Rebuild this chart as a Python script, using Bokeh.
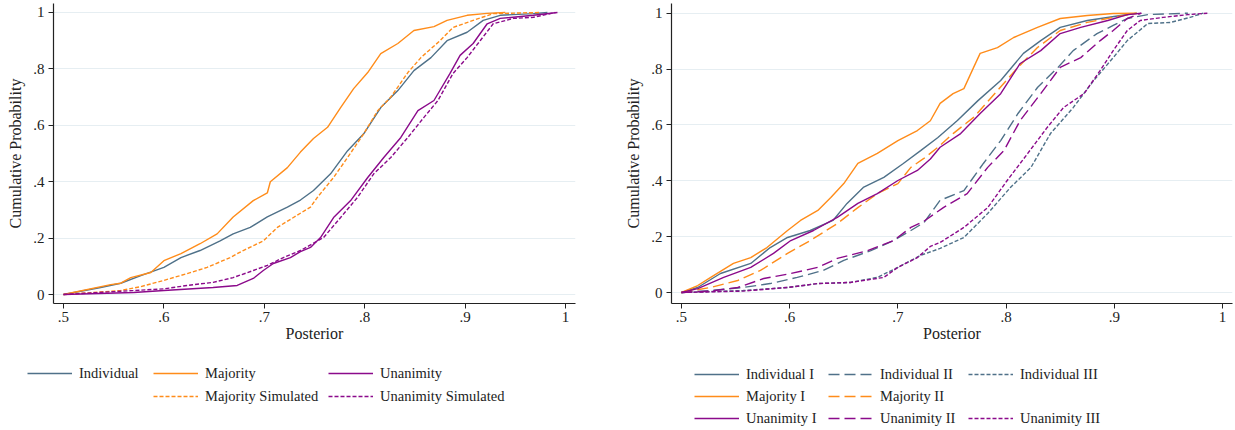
from bokeh.plotting import figure
from bokeh.models import Legend, LegendItem, FixedTicker, Range1d
from bokeh.layouts import row, column
from bokeh.embed import file_html
from bokeh.resources import INLINE

FONT = "Liberation Serif"
C_IND = "#4f7189"
C_MAJ = "#ff8c1a"
C_UNA = "#8b0a8b"

x_ticks = [0.5, 0.6, 0.7, 0.8, 0.9, 1.0]
x_tick_labels = [".5", ".6", ".7", ".8", ".9", "1"]
y_ticks = [0.0, 0.2, 0.4, 0.6, 0.8, 1.0]
y_tick_labels = ["0", ".2", ".4", ".6", ".8", "1"]

# ---------------- Left panel data ----------------
ind_x = [0.5, 0.537, 0.557, 0.577, 0.6, 0.617, 0.636, 0.656, 0.669, 0.686, 0.703, 0.723, 0.736, 0.749, 0.766, 0.783, 0.799, 0.816, 0.833, 0.849, 0.866, 0.882, 0.902, 0.918, 0.935, 0.968, 0.982]
ind_y = [0.0, 0.025, 0.04, 0.067, 0.096, 0.131, 0.156, 0.19, 0.215, 0.238, 0.275, 0.31, 0.335, 0.369, 0.428, 0.51, 0.57, 0.663, 0.723, 0.794, 0.84, 0.9, 0.93, 0.972, 0.99, 0.996, 1.0]

maj_x = [0.5, 0.547, 0.557, 0.567, 0.587, 0.6, 0.617, 0.636, 0.653, 0.669, 0.689, 0.703, 0.706, 0.723, 0.736, 0.749, 0.763, 0.776, 0.789, 0.803, 0.816, 0.833, 0.849, 0.869, 0.882, 0.902, 0.922, 0.94]
maj_y = [0.0, 0.035, 0.04, 0.06, 0.078, 0.12, 0.145, 0.18, 0.215, 0.275, 0.333, 0.36, 0.40, 0.45, 0.505, 0.553, 0.593, 0.663, 0.73, 0.787, 0.854, 0.89, 0.936, 0.95, 0.972, 0.99, 0.997, 1.0]

majsim_x = [0.5, 0.557, 0.577, 0.6, 0.623, 0.643, 0.666, 0.679, 0.699, 0.713, 0.729, 0.746, 0.753, 0.769, 0.783, 0.799, 0.813, 0.826, 0.843, 0.856, 0.875, 0.888, 0.908, 0.928, 0.975]
majsim_y = [0.0, 0.014, 0.028, 0.05, 0.074, 0.096, 0.131, 0.156, 0.19, 0.238, 0.273, 0.31, 0.345, 0.415, 0.486, 0.57, 0.652, 0.70, 0.787, 0.84, 0.90, 0.947, 0.972, 0.996, 1.0]

una_x = [0.5, 0.57, 0.6, 0.649, 0.673, 0.689, 0.699, 0.709, 0.726, 0.736, 0.746, 0.756, 0.769, 0.786, 0.803, 0.819, 0.836, 0.853, 0.869, 0.885, 0.895, 0.908, 0.922, 0.935, 0.968, 0.992]
una_y = [0.0, 0.007, 0.014, 0.025, 0.032, 0.057, 0.085, 0.11, 0.131, 0.152, 0.167, 0.202, 0.273, 0.333, 0.415, 0.486, 0.557, 0.652, 0.688, 0.784, 0.848, 0.89, 0.96, 0.979, 0.99, 1.0]

unasim_x = [0.5, 0.6, 0.623, 0.649, 0.669, 0.689, 0.703, 0.719, 0.736, 0.759, 0.776, 0.793, 0.809, 0.826, 0.843, 0.859, 0.873, 0.888, 0.902, 0.915, 0.928, 0.948, 0.968, 0.99]
unasim_y = [0.0, 0.02, 0.032, 0.043, 0.06, 0.085, 0.103, 0.131, 0.156, 0.202, 0.273, 0.345, 0.428, 0.486, 0.557, 0.628, 0.688, 0.784, 0.84, 0.90, 0.96, 0.979, 0.983, 1.0]

# ---------------- Right panel data ----------------
ind1_x = [0.5, 0.515, 0.536, 0.564, 0.582, 0.598, 0.619, 0.64, 0.653, 0.668, 0.687, 0.705, 0.721, 0.737, 0.755, 0.774, 0.795, 0.816, 0.832, 0.85, 0.875, 0.906, 0.921]
ind1_y = [0.0, 0.018, 0.068, 0.104, 0.161, 0.197, 0.222, 0.258, 0.319, 0.376, 0.412, 0.462, 0.508, 0.555, 0.616, 0.687, 0.759, 0.856, 0.902, 0.949, 0.974, 0.992, 1.0]

maj1_x = [0.5, 0.515, 0.527, 0.548, 0.564, 0.579, 0.598, 0.61, 0.626, 0.638, 0.65, 0.663, 0.681, 0.7, 0.718, 0.73, 0.739, 0.751, 0.761, 0.77, 0.776, 0.792, 0.807, 0.829, 0.85, 0.875, 0.899, 0.92]
maj1_y = [0.0, 0.025, 0.054, 0.104, 0.125, 0.161, 0.222, 0.258, 0.294, 0.34, 0.39, 0.462, 0.498, 0.544, 0.58, 0.615, 0.677, 0.712, 0.73, 0.806, 0.856, 0.877, 0.913, 0.949, 0.981, 0.992, 0.999, 1.0]

una1_x = [0.5, 0.515, 0.539, 0.564, 0.585, 0.601, 0.622, 0.644, 0.663, 0.681, 0.7, 0.718, 0.73, 0.739, 0.758, 0.776, 0.795, 0.813, 0.832, 0.85, 0.869, 0.894, 0.912, 0.925]
una1_y = [0.0, 0.014, 0.054, 0.09, 0.14, 0.186, 0.222, 0.269, 0.319, 0.354, 0.401, 0.437, 0.478, 0.52, 0.569, 0.641, 0.712, 0.82, 0.866, 0.927, 0.949, 0.974, 0.995, 1.0]

ind2_x = [0.5, 0.527, 0.557, 0.582, 0.607, 0.631, 0.65, 0.675, 0.696, 0.712, 0.724, 0.739, 0.761, 0.779, 0.795, 0.811, 0.829, 0.848, 0.862, 0.884, 0.899, 0.912, 0.931, 0.968]
ind2_y = [0.0, 0.007, 0.018, 0.032, 0.054, 0.079, 0.115, 0.15, 0.186, 0.222, 0.25, 0.33, 0.365, 0.462, 0.544, 0.641, 0.734, 0.806, 0.866, 0.927, 0.956, 0.981, 0.995, 1.0]

maj2_x = [0.5, 0.527, 0.552, 0.573, 0.598, 0.619, 0.644, 0.663, 0.681, 0.7, 0.712, 0.724, 0.737, 0.751, 0.77, 0.792, 0.811, 0.829, 0.85, 0.875, 0.899, 0.921]
maj2_y = [0.0, 0.018, 0.043, 0.079, 0.14, 0.186, 0.247, 0.304, 0.354, 0.39, 0.448, 0.48, 0.52, 0.569, 0.627, 0.723, 0.806, 0.877, 0.938, 0.967, 0.985, 1.0]

una2_x = [0.5, 0.527, 0.552, 0.576, 0.601, 0.626, 0.644, 0.672, 0.696, 0.712, 0.724, 0.742, 0.764, 0.783, 0.798, 0.813, 0.832, 0.85, 0.869, 0.887, 0.899, 0.912, 0.925]
una2_y = [0.0, 0.005, 0.018, 0.05, 0.068, 0.09, 0.122, 0.15, 0.186, 0.233, 0.255, 0.304, 0.354, 0.448, 0.508, 0.616, 0.712, 0.806, 0.841, 0.902, 0.938, 0.981, 1.0]

ind3_x = [0.5, 0.557, 0.598, 0.626, 0.656, 0.681, 0.7, 0.721, 0.739, 0.761, 0.783, 0.804, 0.823, 0.841, 0.862, 0.881, 0.899, 0.912, 0.931, 0.952, 0.97, 0.982]
ind3_y = [0.0, 0.007, 0.018, 0.032, 0.036, 0.054, 0.09, 0.133, 0.158, 0.197, 0.283, 0.376, 0.448, 0.569, 0.662, 0.759, 0.841, 0.902, 0.963, 0.967, 0.985, 1.0]

una3_x = [0.5, 0.557, 0.598, 0.626, 0.656, 0.687, 0.7, 0.718, 0.73, 0.739, 0.761, 0.783, 0.801, 0.82, 0.838, 0.853, 0.872, 0.887, 0.899, 0.912, 0.924, 0.945, 0.968, 0.986]
una3_y = [0.0, 0.005, 0.018, 0.032, 0.036, 0.054, 0.09, 0.125, 0.165, 0.179, 0.233, 0.304, 0.401, 0.498, 0.591, 0.662, 0.712, 0.795, 0.866, 0.938, 0.974, 0.985, 0.995, 1.0]

SHORT = "4 2"
LONG = "11 5"
LW = 1.4


def make_fig(width, mb_left, mb_right, xr, yr):
    p = figure(width=width, height=350, x_range=Range1d(*xr), y_range=Range1d(*yr),
               output_backend="svg", toolbar_location=None,
               min_border_left=mb_left, min_border_right=mb_right,
               min_border_top=3, min_border_bottom=47)
    p.outline_line_color = None
    p.xgrid.visible = False
    p.ygrid.ticker = FixedTicker(ticks=y_ticks)
    p.ygrid.grid_line_color = "#e6eef2"
    p.ygrid.grid_line_width = 1.2
    p.xaxis.ticker = FixedTicker(ticks=x_ticks)
    p.yaxis.ticker = FixedTicker(ticks=y_ticks)
    p.xaxis.major_label_overrides = dict(zip(x_ticks, x_tick_labels))
    p.yaxis.major_label_overrides = dict(zip(y_ticks, y_tick_labels))
    for ax in (p.xaxis, p.yaxis):
        ax.axis_line_color = "#222222"
        ax.axis_line_width = 1.2
        ax.major_tick_line_color = "#222222"
        ax.major_tick_in = 0
        ax.major_tick_out = 5
        ax.minor_tick_line_color = None
        ax.major_label_text_font = FONT
        ax.major_label_text_font_size = "15px"
        ax.major_label_text_color = "#222222"
        ax.axis_label_text_font = FONT
        ax.axis_label_text_font_size = "16px"
        ax.axis_label_text_font_style = "normal"
        ax.axis_label_text_color = "#222222"
    p.yaxis.major_label_orientation = "horizontal"
    p.yaxis.major_label_standoff = 4
    p.yaxis.axis_label_standoff = 6
    p.xaxis.major_label_standoff = 3
    p.xaxis.axis_label_standoff = 0
    p.xaxis.axis_label = "Posterior"
    p.yaxis.axis_label = "Cumulative Probability"
    return p


def make_legend_fig(width):
    # ranges chosen so that the series drawn here (only for the legend keys) stay off-screen
    p = figure(width=width, height=80, x_range=Range1d(2, 3), y_range=Range1d(2, 3),
               output_backend="svg", toolbar_location=None,
               min_border_left=0, min_border_right=0, min_border_top=0, min_border_bottom=0)
    p.axis.visible = False
    p.grid.visible = False
    p.outline_line_color = None
    return p


def add_legend(p, items, loc, spacing):
    leg = Legend(items=items, location=loc, orientation="vertical",
                 glyph_width=45, glyph_height=20, label_height=20,
                 label_standoff=7, spacing=spacing, padding=0, margin=0,
                 border_line_color=None, background_fill_alpha=0,
                 label_text_font=FONT, label_text_font_size="14.5px",
                 label_text_color="#222222")
    p.add_layout(leg, "center")


def key(p, xs, ys, color, dash="solid"):
    return p.line(xs, ys, line_color=color, line_width=LW, line_dash=dash)


# ---------------- Left figure ----------------
pl = make_fig(618, 53, 43, (0.49004, 1.00996), (-0.03191, 1.03191))
pl.line(ind_x, ind_y, line_color=C_IND, line_width=LW)
pl.line(maj_x, maj_y, line_color=C_MAJ, line_width=LW)
pl.line(majsim_x, majsim_y, line_color=C_MAJ, line_width=LW, line_dash=SHORT)
pl.line(una_x, una_y, line_color=C_UNA, line_width=LW)
pl.line(unasim_x, unasim_y, line_color=C_UNA, line_width=LW, line_dash=SHORT)

ll = make_legend_fig(618)
add_legend(ll, [LegendItem(label="Individual", renderers=[key(ll, ind_x, ind_y, C_IND)])], (27, 47), 3)
add_legend(ll, [LegendItem(label="Majority", renderers=[key(ll, maj_x, maj_y, C_MAJ)]),
                LegendItem(label="Majority Simulated", renderers=[key(ll, majsim_x, majsim_y, C_MAJ, SHORT)])], (153, 24), 3)
add_legend(ll, [LegendItem(label="Unanimity", renderers=[key(ll, una_x, una_y, C_UNA)]),
                LegendItem(label="Unanimity Simulated", renderers=[key(ll, unasim_x, unasim_y, C_UNA, SHORT)])], (328, 24), 3)

# ---------------- Right figure ----------------
pr = make_fig(617, 53, 3, (0.49076, 1.00924), (-0.03938, 1.03473))
pr.line(ind1_x, ind1_y, line_color=C_IND, line_width=LW)
pr.line(ind2_x, ind2_y, line_color=C_IND, line_width=LW, line_dash=LONG)
pr.line(ind3_x, ind3_y, line_color=C_IND, line_width=LW, line_dash=SHORT)
pr.line(maj1_x, maj1_y, line_color=C_MAJ, line_width=LW)
pr.line(maj2_x, maj2_y, line_color=C_MAJ, line_width=LW, line_dash=LONG)
pr.line(una1_x, una1_y, line_color=C_UNA, line_width=LW)
pr.line(una2_x, una2_y, line_color=C_UNA, line_width=LW, line_dash=LONG)
pr.line(una3_x, una3_y, line_color=C_UNA, line_width=LW, line_dash=SHORT)

lr = make_legend_fig(617)
add_legend(lr, [LegendItem(label="Individual I", renderers=[key(lr, ind1_x, ind1_y, C_IND)]),
                LegendItem(label="Majority I", renderers=[key(lr, maj1_x, maj1_y, C_MAJ)]),
                LegendItem(label="Unanimity I", renderers=[key(lr, una1_x, una1_y, C_UNA)])], (76, 2), 2)
add_legend(lr, [LegendItem(label="Individual II", renderers=[key(lr, ind2_x, ind2_y, C_IND, LONG)]),
                LegendItem(label="Majority II", renderers=[key(lr, maj2_x, maj2_y, C_MAJ, LONG)]),
                LegendItem(label="Unanimity II", renderers=[key(lr, una2_x, una2_y, C_UNA, LONG)])], (210, 2), 2)
add_legend(lr, [LegendItem(label="Individual III", renderers=[key(lr, ind3_x, ind3_y, C_IND, SHORT)])], (350, 46), 2)
add_legend(lr, [LegendItem(label="Unanimity III", renderers=[key(lr, una3_x, una3_y, C_UNA, SHORT)])], (350, 2), 2)

layout = column(row(pl, pr), row(ll, lr))
open("out.html", "w").write(file_html(layout, INLINE))
